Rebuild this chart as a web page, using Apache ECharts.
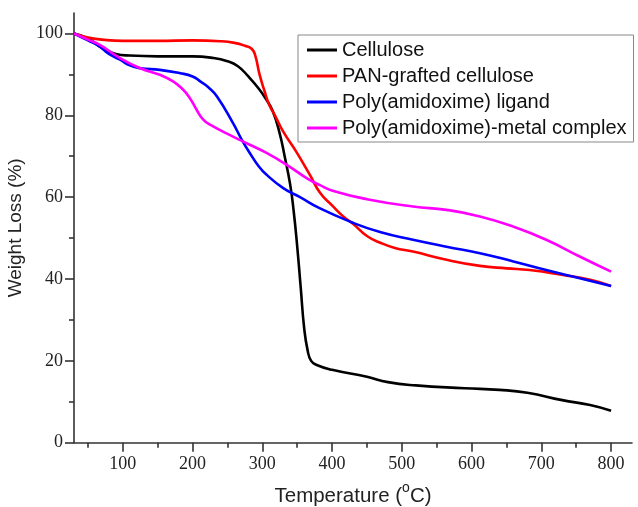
<!DOCTYPE html>
<html>
<head>
<meta charset="utf-8">
<script src="https://cdn.jsdelivr.net/npm/echarts@6/dist/echarts.min.js"></script>
<style>html,body{margin:0;padding:0;background:#fff;}#chart{width:638px;height:507px;}</style>
</head>
<body>
<div id="chart"></div>
<script>
// ---- data ----
var seriesNames = ['Cellulose', 'PAN-grafted cellulose', 'Poly(amidoxime) ligand', 'Poly(amidoxime)-metal complex'];
var xMajorTicks = [100, 200, 300, 400, 500, 600, 700, 800];
var xMinorTicks = [50, 150, 250, 350, 450, 550, 650, 750];
var yMajorTicks = [0, 20, 40, 60, 80, 100];
var yMinorTicks = [10, 30, 50, 70, 90];

var celluloseT = [30, 50, 70, 90, 110, 150, 200, 230, 250, 265, 280, 295, 305, 315, 325, 332, 340, 345, 350, 355, 360, 365, 370, 378, 400, 450, 480, 520, 590, 640, 680, 730, 770, 800];
var celluloseW = [100, 98.8, 96.5, 95, 94.6, 94.4, 94.4, 94.0, 93.2, 92, 89.5, 86.5, 84, 81, 75.5, 70, 63, 56.5, 48, 38, 28, 22.5, 20, 19, 17.8, 16.1, 14.8, 14, 13.3, 12.9, 12.2, 10.4, 9.2, 7.8];

var panT = [30, 50, 70, 100, 150, 200, 240, 260, 275, 285, 290, 296, 303, 310, 318, 330, 349, 368, 383, 400, 416, 430, 450, 470, 490, 516, 564, 612, 650, 683, 731, 770, 800];
var panW = [100, 99, 98.5, 98.2, 98.2, 98.3, 98.1, 97.7, 97, 96.2, 94.5, 90, 86, 82.5, 80, 76, 71, 65.5, 61, 58, 55.3, 53.5, 50.5, 48.8, 47.6, 46.7, 44.7, 43.2, 42.6, 42.2, 41.0, 39.8, 38.3];

var ligandT = [30, 50, 67, 80, 96, 110, 125, 153, 182, 200, 211, 223, 235, 258, 270, 282, 295, 306, 330, 354, 382, 426, 470, 516, 564, 612, 660, 707, 755, 800];
var ligandW = [100, 98.3, 96.8, 95, 93.6, 92.2, 91.5, 91.1, 90.3, 89.5, 88.3, 86.8, 84.6, 78.1, 74.2, 70.8, 67.5, 65.5, 62.2, 60, 57.3, 54, 51.4, 49.6, 47.9, 46.3, 44.3, 42.2, 40.2, 38.3];

var complexT = [30, 50, 67, 96, 125, 153, 172, 185, 195, 206, 215, 225, 258, 282, 306, 335, 364, 382, 402, 450, 516, 564, 612, 660, 707, 755, 800];
var complexW = [100, 98.5, 97.2, 94, 91.5, 89.9, 88.3, 86.5, 84.5, 81.3, 79, 77.7, 74.8, 72.8, 70.8, 67.9, 64.6, 63, 61.5, 59.5, 57.7, 56.9, 55.3, 52.8, 49.6, 45.5, 41.8];

var seriesColors = ['#000000', '#ff0000', '#0000ff', '#ff00ff'];

function pairs(t, w) { return t.map(function (v, i) { return [v, w[i]]; }); }
var seriesData = [pairs(celluloseT, celluloseW), pairs(panT, panW), pairs(ligandT, ligandW), pairs(complexT, complexW)];

var axisColor = '#333';
var labelFont = {fontFamily: '"Liberation Serif","Times New Roman",serif', fontSize: 18, color: '#222'};
var sansFont = '"Liberation Sans",Arial,sans-serif';

var chart = echarts.init(document.getElementById('chart'), null, {renderer: 'canvas'});
chart.setOption({
  animation: false,
  backgroundColor: '#fff',
  grid: {left: 74, right: 6, top: 13, bottom: 64.3, containLabel: false, outerBoundsMode: 'none'},
  legend: {
    orient: 'vertical',
    left: 298, top: 35,
    padding: [5, 7, 4, 9],
    itemGap: 6,
    itemWidth: 30, itemHeight: 3,
    icon: 'rect',
    borderColor: '#888', borderWidth: 1,
    backgroundColor: '#fff',
    textStyle: {fontFamily: sansFont, fontSize: 20, lineHeight: 20, color: '#111', padding: [0, 0, 0, 0]},
    data: seriesNames
  },
  xAxis: [{
    type: 'value', min: 30, max: 830, position: 'bottom',
    name: '{t|Temperature (}{sup|o}{t|C)}', nameLocation: 'middle', nameGap: 38,
    nameTextStyle: {fontFamily: sansFont, fontSize: 20.5, color: '#222',
      rich: {
        t: {fontFamily: sansFont, fontSize: 20.5, lineHeight: 26, verticalAlign: 'bottom', color: '#222'},
        sup: {fontFamily: sansFont, fontSize: 14, lineHeight: 14, verticalAlign: 'top', color: '#222'}
      }},
    axisLine: {onZero: false, lineStyle: {color: axisColor, width: 1.6}},
    axisTick: {length: 9, customValues: xMajorTicks, lineStyle: {color: axisColor, width: 1.6}},
    axisLabel: Object.assign({margin: 13, customValues: xMajorTicks}, labelFont),
    splitLine: {show: false}
  }, {
    type: 'value', min: 30, max: 830, position: 'bottom', offset: 0,
    axisLine: {show: false, onZero: false},
    axisTick: {length: 5, customValues: xMinorTicks, lineStyle: {color: axisColor, width: 1.6}},
    axisLabel: {show: false},
    splitLine: {show: false}
  }],
  yAxis: [{
    type: 'value', min: 0, max: 105, position: 'left',
    name: 'Weight Loss (%)', nameLocation: 'middle', nameGap: 47,
    nameTextStyle: {fontFamily: sansFont, fontSize: 19, color: '#222'},
    axisLine: {show: true, onZero: false, lineStyle: {color: axisColor, width: 1.6}},
    axisTick: {show: true, length: 9, customValues: yMajorTicks, lineStyle: {color: axisColor, width: 1.6}},
    axisLabel: Object.assign({margin: 11, customValues: yMajorTicks}, labelFont),
    splitLine: {show: false}
  }, {
    type: 'value', min: 0, max: 105, position: 'left', offset: 0,
    axisLine: {show: false, onZero: false},
    axisTick: {show: true, length: 5, customValues: yMinorTicks, lineStyle: {color: axisColor, width: 1.6}},
    axisLabel: {show: false},
    splitLine: {show: false}
  }],
  series: seriesNames.map(function (name, i) {
    return {
      name: name, type: 'line', xAxisIndex: 0, yAxisIndex: 0,
      data: seriesData[i], showSymbol: false, symbol: 'none',
      smooth: 0.5,
      lineStyle: {color: seriesColors[i], width: 2.6},
      itemStyle: {color: seriesColors[i]},
      z: 2 + i
    };
  })
});
</script>
</body>
</html>
